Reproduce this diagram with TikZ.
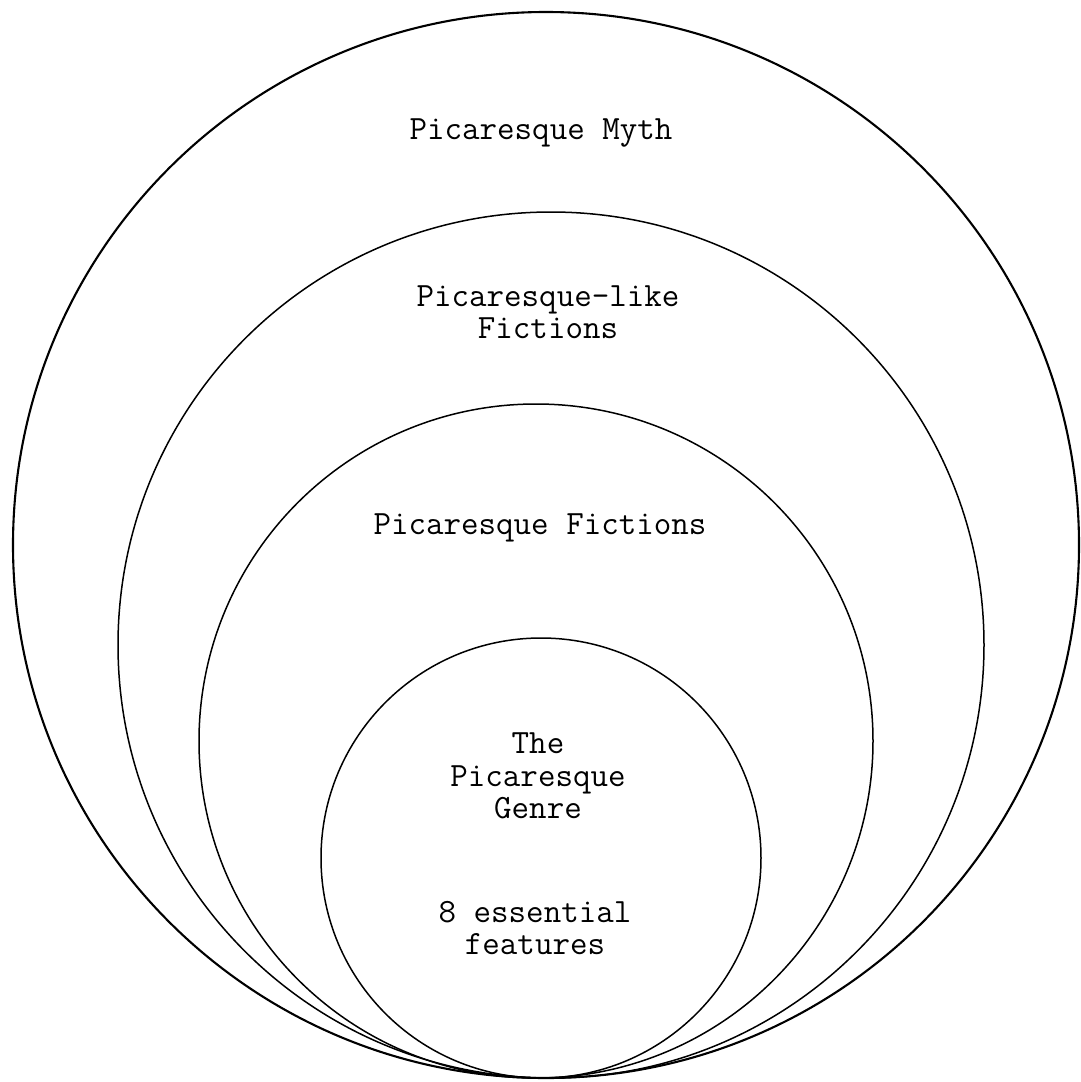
\documentclass[tikz,border=0pt]{standalone}
\usepackage{fontspec}
\usetikzlibrary{positioning}
\tikzset{
  ring/.style      = {circle, draw=black, line width=1.5pt, inner sep=0pt},
  outerring/.style = {ring, line width=2.1pt},
  lbl/.style       = {font=\ttfamily\fontsize{34}{32.5}\selectfont, align=center, inner sep=0pt},
}

\begin{document}
\begin{tikzpicture}[x=1pt,y=-1pt]
  \useasboundingbox[fill=white] (0,0) rectangle (1081,1082);
  % nested circles, all touching at the bottom
  \node[outerring, minimum size=1066pt] (myth)   at (546,545) {};
  \node[ring, minimum size=866pt]       (like)   at (551,645) {};
  \node[ring, minimum size=674pt]       (fict)   at (536,741) {};
  \node[ring, minimum size=440pt]       (genre)  at (541,858) {};
  % labels
  \node[lbl] (mythlbl)  at (541,133) {Picaresque Myth};
  \node[lbl] (likelbl)  at (548,312) {Picaresque-like\\Fictions};
  \node[lbl] (fictlbl)  at (540,528) {Picaresque Fictions};
  \node[lbl] (genrelbl) at (538,776) {The\\Picaresque\\Genre};
  \node[lbl] (featlbl)  at (535,928) {8 essential\\features};
\end{tikzpicture}
\end{document}
